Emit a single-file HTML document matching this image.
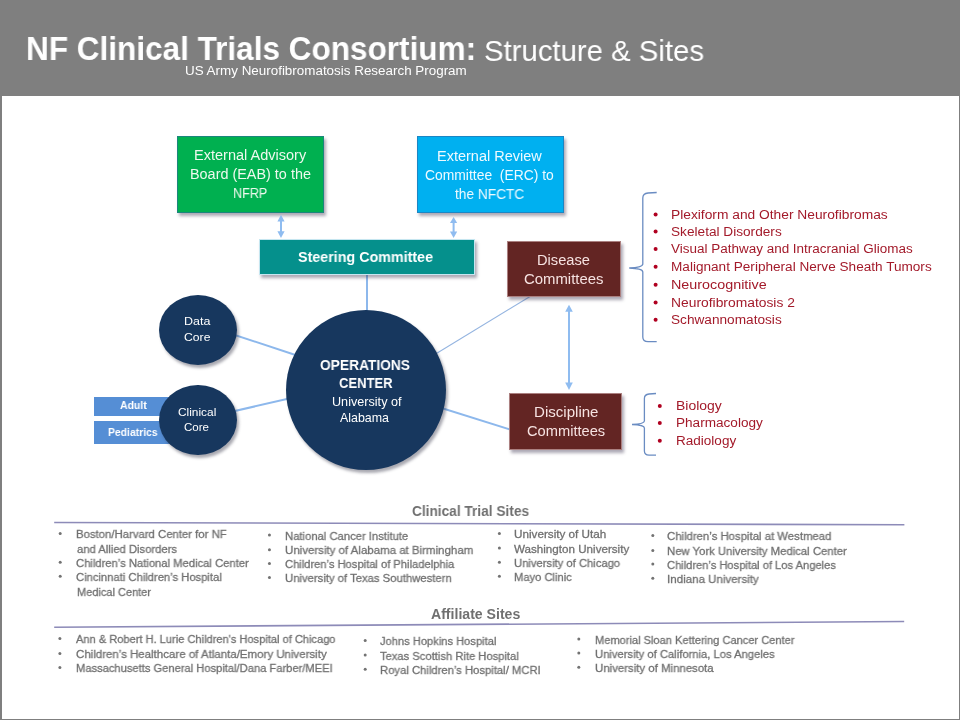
<!DOCTYPE html>
<html><head><meta charset="utf-8">
<style>
html,body{margin:0;padding:0;}
body{width:960px;height:720px;position:relative;overflow:hidden;background:#fff;font-family:"Liberation Sans",sans-serif;}
.t{position:absolute;white-space:nowrap;transform-origin:0 0;will-change:transform;}
.hdr{position:absolute;left:0;top:0;width:960px;height:96px;background:#7f7f7f;}
.bl{position:absolute;left:0;top:96px;width:2px;height:625px;background:#7f7f7f;}
.br{position:absolute;right:0;top:96px;width:1px;height:625px;background:#7f7f7f;}
.bb{position:absolute;left:0;bottom:0;width:960px;height:1px;background:#7f7f7f;}
.box{position:absolute;box-sizing:border-box;box-shadow:2px 3px 3px rgba(50,40,70,0.4);}
.circ{position:absolute;border-radius:50%;background:#17375e;box-shadow:2px 3px 3px rgba(40,40,60,0.4);}
svg{position:absolute;left:0;top:0;}
</style></head><body>
<div class="hdr"></div>
<div class="bl"></div><div class="br"></div><div class="bb"></div>

<svg width="960" height="720" viewBox="0 0 960 720">
  <g stroke="#8db8ec" stroke-width="2" fill="none">
    <line x1="367" y1="274" x2="367" y2="312"/>
    <line x1="200" y1="323.5" x2="300" y2="356.5"/>
    <line x1="200" y1="419" x2="300" y2="396"/>
    
    <line x1="420" y1="401.3" x2="515" y2="431"/>
  </g>
  <g stroke="#94b4e0" stroke-width="1.1" fill="none">
    <line x1="420" y1="363.5" x2="535" y2="293.5"/>
  </g>
</svg>

<div class="box" style="left:177px;top:136px;width:147px;height:77px;background:#00b050;border:1px solid rgba(50,100,160,0.55);"></div>
<div class="box" style="left:417px;top:136px;width:147px;height:77px;background:#00b0f0;border:1px solid rgba(50,100,160,0.55);"></div>
<div class="box" style="left:259px;top:239px;width:216px;height:35.5px;background:#05908c;border:1px solid #c5e6f0;"></div>
<div class="box" style="left:507px;top:241px;width:114px;height:56px;background:#632523;border:1px solid rgba(220,190,190,0.6);"></div>
<div class="box" style="left:509px;top:393px;width:113px;height:57px;background:#632523;border:1px solid rgba(220,190,190,0.6);"></div>
<div class="box" style="left:94px;top:396.5px;width:90px;height:19.5px;background:#558ed5;box-shadow:none;"></div>
<div class="box" style="left:94px;top:421px;width:90px;height:22.75px;background:#558ed5;box-shadow:none;"></div>

<div class="circ" style="left:159px;top:294.7px;width:78px;height:70px;"></div>
<div class="circ" style="left:158.5px;top:384.7px;width:78px;height:70.5px;"></div>
<div class="circ" style="left:286px;top:310px;width:160px;height:160px;"></div>

<svg width="960" height="720" viewBox="0 0 960 720">
  <g fill="#8fbcf0" stroke="none">
    <rect x="280" y="220" width="2" height="12"/>
    <polygon points="281,214.8 277.4,221.5 284.6,221.5"/>
    <polygon points="281,238.1 277.4,231.3 284.6,231.3"/>
    <rect x="452.6" y="222" width="2" height="10"/>
    <polygon points="453.6,217 450,223 457.2,223"/>
    <polygon points="453.6,238.1 450,231.5 457.2,231.5"/>
    <rect x="568" y="310" width="2" height="74"/>
    <polygon points="569,304.7 565.2,311.7 572.8,311.7"/>
    <polygon points="569,390.1 565.2,382.5 572.8,382.5"/>
  </g>
  <g stroke="#6a8cc2" stroke-width="1.3" fill="none">
    <path d="M656.7,192.5 L648,193 Q642.8,193.5 642.8,198 L642.8,264 Q642.8,267.5 629.2,268 Q642.8,268.5 642.8,272 L642.8,337 Q642.8,341.5 648,341.7 L656.7,341.7"/>
    <path d="M656,393.5 L649,394 Q644.4,394.5 644.4,398.5 L644.4,421 Q644.4,424 632,424.5 Q644.4,425 644.4,428 L644.4,451 Q644.4,455 649,455.2 L656,455.2"/>
  </g>
  <g stroke="#8d8bb8" stroke-width="1.6" fill="none">
    <line x1="54.2" y1="522.5" x2="904.4" y2="524.75"/>
    <line x1="54.2" y1="627.25" x2="904.2" y2="621.5"/>
  </g>
  <circle cx="655.6" cy="214.60000000000002" r="2.0" fill="#b00020"/><circle cx="655.6" cy="231.60000000000002" r="2.0" fill="#b00020"/><circle cx="655.6" cy="249.10000000000002" r="2.0" fill="#b00020"/><circle cx="655.6" cy="266.8" r="2.0" fill="#b00020"/><circle cx="655.6" cy="284.8" r="2.0" fill="#b00020"/><circle cx="655.6" cy="302.5" r="2.0" fill="#b00020"/><circle cx="655.6" cy="319.8" r="2.0" fill="#b00020"/><circle cx="659.8" cy="406.0" r="2.0" fill="#b00020"/><circle cx="659.8" cy="423.0" r="2.0" fill="#b00020"/><circle cx="659.8" cy="440.8" r="2.0" fill="#b00020"/><circle cx="60.2" cy="533.6" r="1.5" fill="#737373"/><circle cx="60.2" cy="562.35" r="1.5" fill="#737373"/><circle cx="60.2" cy="576.35" r="1.5" fill="#737373"/><circle cx="269.45" cy="535.1" r="1.5" fill="#737373"/><circle cx="269.45" cy="549.85" r="1.5" fill="#737373"/><circle cx="269.45" cy="563.6" r="1.5" fill="#737373"/><circle cx="269.45" cy="577.6" r="1.5" fill="#737373"/><circle cx="499.4" cy="533.4" r="1.5" fill="#737373"/><circle cx="499.4" cy="548.1" r="1.5" fill="#737373"/><circle cx="499.4" cy="562.3000000000001" r="1.5" fill="#737373"/><circle cx="499.4" cy="576.3000000000001" r="1.5" fill="#737373"/><circle cx="652.8000000000001" cy="535.5" r="1.5" fill="#737373"/><circle cx="652.8000000000001" cy="550.4" r="1.5" fill="#737373"/><circle cx="652.8000000000001" cy="564.1" r="1.5" fill="#737373"/><circle cx="652.8000000000001" cy="578.3000000000001" r="1.5" fill="#737373"/><circle cx="59.900000000000006" cy="638.6" r="1.5" fill="#737373"/><circle cx="59.900000000000006" cy="653.4" r="1.5" fill="#737373"/><circle cx="59.900000000000006" cy="667.5" r="1.5" fill="#737373"/><circle cx="365.2" cy="640.4" r="1.5" fill="#737373"/><circle cx="365.2" cy="655.0" r="1.5" fill="#737373"/><circle cx="365.2" cy="669.3000000000001" r="1.5" fill="#737373"/><circle cx="578.8000000000001" cy="639.0" r="1.5" fill="#737373"/><circle cx="578.8000000000001" cy="653.1" r="1.5" fill="#737373"/><circle cx="578.8000000000001" cy="667.3000000000001" r="1.5" fill="#737373"/>
</svg>
<div class="t" style="left:25.98px;top:31.69px;font-size:33.43px;line-height:33.43px;font-weight:bold;color:#ffffff;transform:scaleX(0.9430)">NF Clinical Trials Consortium:</div>
<div class="t" style="left:483.98px;top:35.95px;font-size:29.94px;line-height:29.94px;color:#ffffff;transform:scaleX(0.9795)">Structure &amp; Sites</div>
<div class="t" style="left:185.25px;top:64.72px;font-size:12.50px;line-height:12.50px;color:#ffffff;transform:scaleX(1.0730)">US Army Neurofibromatosis Research Program</div>
<div class="t" style="left:193.80px;top:149.01px;font-size:13.81px;line-height:13.81px;color:#eef9ee;transform:scaleX(1.0526)">External Advisory</div>
<div class="t" style="left:189.90px;top:168.01px;font-size:13.81px;line-height:13.81px;color:#eef9ee;transform:scaleX(1.0441)">Board (EAB) to the</div>
<div class="t" style="left:232.70px;top:186.61px;font-size:13.81px;line-height:13.81px;color:#eef9ee;transform:scaleX(0.9131)">NFRP</div>
<div class="t" style="left:437.30px;top:150.31px;font-size:13.81px;line-height:13.81px;color:#eefaff;transform:scaleX(1.0503)">External Review</div>
<div class="t" style="left:425.00px;top:168.91px;font-size:13.81px;line-height:13.81px;color:#eefaff;transform:scaleX(1.0060)">Committee&nbsp; (ERC) to</div>
<div class="t" style="left:455.40px;top:188.01px;font-size:13.81px;line-height:13.81px;color:#eefaff;transform:scaleX(0.9925)">the NFCTC</div>
<div class="t" style="left:298.00px;top:249.69px;font-size:14.54px;line-height:14.54px;font-weight:bold;color:#ffffff;transform:scaleX(0.9834)">Steering Committee</div>
<div class="t" style="left:537.00px;top:254.19px;font-size:13.95px;line-height:13.95px;color:#f6e2e1;transform:scaleX(1.0527)">Disease</div>
<div class="t" style="left:524.40px;top:273.39px;font-size:13.95px;line-height:13.95px;color:#f6e2e1;transform:scaleX(1.0684)">Committees</div>
<div class="t" style="left:533.50px;top:406.19px;font-size:13.95px;line-height:13.95px;color:#f6e2e1;transform:scaleX(1.0812)">Discipline</div>
<div class="t" style="left:526.60px;top:425.19px;font-size:13.95px;line-height:13.95px;color:#f6e2e1;transform:scaleX(1.0517)">Committees</div>
<div class="t" style="left:184.25px;top:315.52px;font-size:11.19px;line-height:11.19px;color:#ffffff;transform:scaleX(1.1153)">Data</div>
<div class="t" style="left:184.25px;top:331.52px;font-size:11.19px;line-height:11.19px;color:#ffffff;transform:scaleX(1.0891)">Core</div>
<div class="t" style="left:178.20px;top:406.82px;font-size:11.19px;line-height:11.19px;color:#ffffff;transform:scaleX(1.0614)">Clinical</div>
<div class="t" style="left:183.80px;top:421.52px;font-size:11.19px;line-height:11.19px;color:#ffffff;transform:scaleX(1.0319)">Core</div>
<div class="t" style="left:320.00px;top:357.69px;font-size:14.54px;line-height:14.54px;font-weight:bold;color:#ffffff;transform:scaleX(0.9475)">OPERATIONS</div>
<div class="t" style="left:339.00px;top:376.44px;font-size:14.54px;line-height:14.54px;font-weight:bold;color:#ffffff;transform:scaleX(0.8958)">CENTER</div>
<div class="t" style="left:332.00px;top:396.91px;font-size:11.92px;line-height:11.92px;color:#ffffff;transform:scaleX(1.0608)">University of</div>
<div class="t" style="left:340.00px;top:412.66px;font-size:11.92px;line-height:11.92px;color:#ffffff;transform:scaleX(1.0426)">Alabama</div>
<div class="t" style="left:120.25px;top:400.30px;font-size:11.34px;line-height:11.34px;font-weight:bold;color:#ffffff;transform:scaleX(0.9239)">Adult</div>
<div class="t" style="left:108.40px;top:426.80px;font-size:11.34px;line-height:11.34px;font-weight:bold;color:#ffffff;transform:scaleX(0.9167)">Pediatrics</div>
<div class="t" style="left:670.70px;top:207.72px;font-size:13.08px;line-height:13.08px;color:#a31a2a;transform:scaleX(1.0535)">Plexiform and Other Neurofibromas</div>
<div class="t" style="left:670.70px;top:224.72px;font-size:13.08px;line-height:13.08px;color:#a31a2a;transform:scaleX(1.0432)">Skeletal Disorders</div>
<div class="t" style="left:670.70px;top:242.22px;font-size:13.08px;line-height:13.08px;color:#a31a2a;transform:scaleX(1.0305)">Visual Pathway and Intracranial Gliomas</div>
<div class="t" style="left:670.70px;top:259.92px;font-size:13.08px;line-height:13.08px;color:#a31a2a;transform:scaleX(1.0395)">Malignant Peripheral Nerve Sheath Tumors</div>
<div class="t" style="left:670.70px;top:277.92px;font-size:13.08px;line-height:13.08px;color:#a31a2a;transform:scaleX(1.0970)">Neurocognitive</div>
<div class="t" style="left:670.70px;top:295.62px;font-size:13.08px;line-height:13.08px;color:#a31a2a;transform:scaleX(1.0587)">Neurofibromatosis 2</div>
<div class="t" style="left:670.70px;top:312.92px;font-size:13.08px;line-height:13.08px;color:#a31a2a;transform:scaleX(1.0431)">Schwannomatosis</div>
<div class="t" style="left:675.60px;top:399.12px;font-size:13.08px;line-height:13.08px;color:#a31a2a;transform:scaleX(1.0673)">Biology</div>
<div class="t" style="left:675.60px;top:416.12px;font-size:13.08px;line-height:13.08px;color:#a31a2a;transform:scaleX(1.0382)">Pharmacology</div>
<div class="t" style="left:675.60px;top:433.92px;font-size:13.08px;line-height:13.08px;color:#a31a2a;transform:scaleX(1.0348)">Radiology</div>
<div class="t" style="left:412.30px;top:503.56px;font-size:14.10px;line-height:14.10px;font-weight:bold;color:#707070;transform:scaleX(0.9707)">Clinical Trial Sites</div>
<div class="t" style="left:430.50px;top:606.81px;font-size:14.10px;line-height:14.10px;font-weight:bold;color:#707070;transform:scaleX(0.9978)">Affiliate Sites</div>
<div class="t" style="left:75.75px;top:528.15px;font-size:11.63px;line-height:11.63px;color:#707070;-webkit-text-stroke:0.3px #707070;transform:scaleX(0.9762)">Boston/Harvard Center for NF</div>
<div class="t" style="left:76.50px;top:542.65px;font-size:11.63px;line-height:11.63px;color:#707070;-webkit-text-stroke:0.3px #707070;transform:scaleX(0.9672)">and Allied Disorders</div>
<div class="t" style="left:75.75px;top:556.90px;font-size:11.63px;line-height:11.63px;color:#707070;-webkit-text-stroke:0.3px #707070;transform:scaleX(0.9663)">Children’s National Medical Center</div>
<div class="t" style="left:75.75px;top:570.90px;font-size:11.63px;line-height:11.63px;color:#707070;-webkit-text-stroke:0.3px #707070;transform:scaleX(0.9653)">Cincinnati Children’s Hospital</div>
<div class="t" style="left:76.50px;top:585.65px;font-size:11.63px;line-height:11.63px;color:#707070;-webkit-text-stroke:0.3px #707070;transform:scaleX(0.9464)">Medical Center</div>
<div class="t" style="left:284.75px;top:529.65px;font-size:11.63px;line-height:11.63px;color:#707070;-webkit-text-stroke:0.3px #707070;transform:scaleX(0.9683)">National Cancer Institute</div>
<div class="t" style="left:284.75px;top:544.40px;font-size:11.63px;line-height:11.63px;color:#707070;-webkit-text-stroke:0.3px #707070;transform:scaleX(0.9876)">University of Alabama at Birmingham</div>
<div class="t" style="left:284.75px;top:558.15px;font-size:11.63px;line-height:11.63px;color:#707070;-webkit-text-stroke:0.3px #707070;transform:scaleX(0.9605)">Children’s Hospital of Philadelphia</div>
<div class="t" style="left:284.75px;top:572.15px;font-size:11.63px;line-height:11.63px;color:#707070;-webkit-text-stroke:0.3px #707070;transform:scaleX(0.9715)">University of Texas Southwestern</div>
<div class="t" style="left:514.30px;top:527.95px;font-size:11.63px;line-height:11.63px;color:#707070;-webkit-text-stroke:0.3px #707070;transform:scaleX(1.0064)">University of Utah</div>
<div class="t" style="left:514.30px;top:542.65px;font-size:11.63px;line-height:11.63px;color:#707070;-webkit-text-stroke:0.3px #707070;transform:scaleX(0.9991)">Washington University</div>
<div class="t" style="left:514.30px;top:556.85px;font-size:11.63px;line-height:11.63px;color:#707070;-webkit-text-stroke:0.3px #707070;transform:scaleX(0.9660)">University of Chicago</div>
<div class="t" style="left:514.30px;top:570.85px;font-size:11.63px;line-height:11.63px;color:#707070;-webkit-text-stroke:0.3px #707070;transform:scaleX(0.9604)">Mayo Clinic</div>
<div class="t" style="left:667.20px;top:530.05px;font-size:11.63px;line-height:11.63px;color:#707070;-webkit-text-stroke:0.3px #707070;transform:scaleX(0.9773)">Children’s Hospital at Westmead</div>
<div class="t" style="left:667.20px;top:544.95px;font-size:11.63px;line-height:11.63px;color:#707070;-webkit-text-stroke:0.3px #707070;transform:scaleX(0.9730)">New York University Medical Center</div>
<div class="t" style="left:667.20px;top:558.65px;font-size:11.63px;line-height:11.63px;color:#707070;-webkit-text-stroke:0.3px #707070;transform:scaleX(0.9580)">Children’s Hospital of Los Angeles</div>
<div class="t" style="left:667.20px;top:572.85px;font-size:11.63px;line-height:11.63px;color:#707070;-webkit-text-stroke:0.3px #707070;transform:scaleX(0.9935)">Indiana University</div>
<div class="t" style="left:75.50px;top:633.15px;font-size:11.63px;line-height:11.63px;color:#707070;-webkit-text-stroke:0.3px #707070;transform:scaleX(0.9529)">Ann &amp; Robert H. Lurie Children's Hospital of Chicago</div>
<div class="t" style="left:75.50px;top:647.95px;font-size:11.63px;line-height:11.63px;color:#707070;-webkit-text-stroke:0.3px #707070;transform:scaleX(0.9881)">Children’s Healthcare of Atlanta/Emory University</div>
<div class="t" style="left:75.50px;top:662.05px;font-size:11.63px;line-height:11.63px;color:#707070;-webkit-text-stroke:0.3px #707070;transform:scaleX(0.9596)">Massachusetts General Hospital/Dana Farber/MEEI</div>
<div class="t" style="left:380.25px;top:634.95px;font-size:11.63px;line-height:11.63px;color:#707070;-webkit-text-stroke:0.3px #707070;transform:scaleX(0.9578)">Johns Hopkins Hospital</div>
<div class="t" style="left:380.25px;top:649.55px;font-size:11.63px;line-height:11.63px;color:#707070;-webkit-text-stroke:0.3px #707070;transform:scaleX(0.9630)">Texas Scottish Rite Hospital</div>
<div class="t" style="left:380.25px;top:663.85px;font-size:11.63px;line-height:11.63px;color:#707070;-webkit-text-stroke:0.3px #707070;transform:scaleX(0.9695)">Royal Children’s Hospital/ MCRI</div>
<div class="t" style="left:594.50px;top:633.55px;font-size:11.63px;line-height:11.63px;color:#707070;-webkit-text-stroke:0.3px #707070;transform:scaleX(0.9529)">Memorial Sloan Kettering Cancer Center</div>
<div class="t" style="left:594.50px;top:647.65px;font-size:11.63px;line-height:11.63px;color:#707070;-webkit-text-stroke:0.3px #707070;transform:scaleX(0.9656)">University of California, Los Angeles</div>
<div class="t" style="left:594.50px;top:661.85px;font-size:11.63px;line-height:11.63px;color:#707070;-webkit-text-stroke:0.3px #707070;transform:scaleX(0.9824)">University of Minnesota</div>
</body></html>
